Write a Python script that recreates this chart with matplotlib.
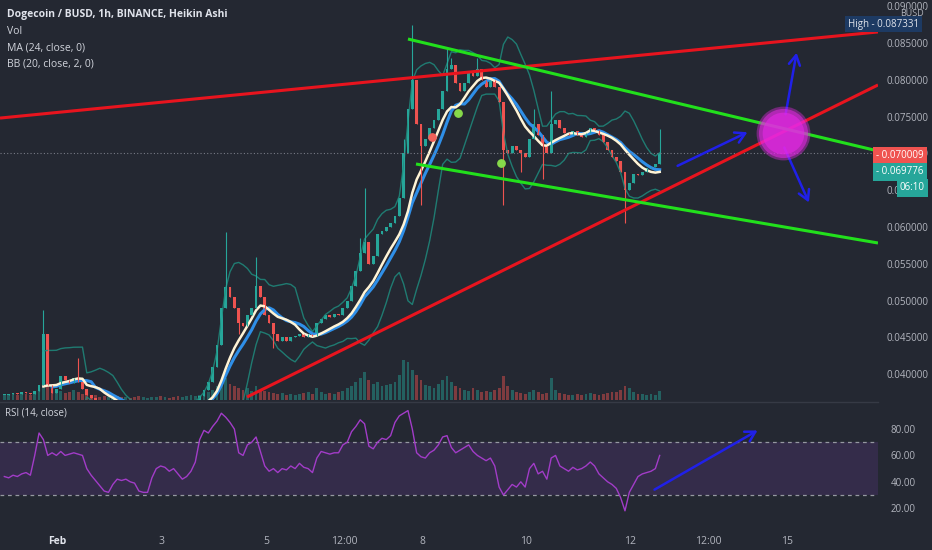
import numpy as np
import pandas as pd
import matplotlib
matplotlib.use("Agg")
import matplotlib.pyplot as plt
from matplotlib.ticker import FormatStrFormatter

# 2h buckets, hours counted from Feb 1 00:00
START_HOUR = -24.5
STEP = 2

closes = [0.0372, 0.0373, 0.0375, 0.0373, 0.0376, 0.0375, 0.0373, 0.0377,
          0.0385, 0.0455,
          0.0385, 0.0375, 0.0380, 0.0398, 0.0392, 0.0388, 0.0395, 0.0390, 0.0380, 0.0372, 0.0368, 0.0362,
          0.0356, 0.0350, 0.0352, 0.0356, 0.0354, 0.0352, 0.0355, 0.0353, 0.0350, 0.0348, 0.0350, 0.0352,
          0.0355, 0.0357, 0.0356, 0.0358, 0.0356, 0.0354, 0.0352, 0.0354, 0.0356, 0.0360, 0.0364,
          0.0370, 0.0378, 0.0390, 0.0410, 0.0440, 0.0490,
          0.0518,
          0.0505, 0.0490, 0.0470, 0.0465, 0.0480, 0.0490, 0.0520, 0.0505, 0.0480,
          0.0470, 0.0455, 0.0445, 0.0450, 0.0445, 0.0450, 0.0452, 0.0455, 0.0450, 0.0455, 0.0452,
          0.0470, 0.0475, 0.0480, 0.0478, 0.0482, 0.0480, 0.0490, 0.0500, 0.0520, 0.0540,
          0.0565, 0.0580, 0.0550, 0.0560, 0.0590, 0.0595, 0.0600, 0.0605, 0.0615, 0.0640,
          0.0700, 0.0760, 0.0800, 0.0740, 0.0710,
          0.0720, 0.0735, 0.0745, 0.0760, 0.0785, 0.0815, 0.0820,
          0.0795, 0.0785, 0.0795, 0.0810, 0.0805, 0.0815, 0.0800, 0.0790, 0.0800, 0.0790, 0.0770,
          0.0705, 0.0700, 0.0710, 0.0705, 0.0700, 0.0695, 0.0720, 0.0740, 0.0725, 0.0710, 0.0700,
          0.0740, 0.0745, 0.0735, 0.0728, 0.0725, 0.0730, 0.0725, 0.0722, 0.0728, 0.0735, 0.0732,
          0.0725, 0.0715, 0.0705, 0.0695,
          0.0690, 0.0675, 0.0650, 0.0660, 0.0672, 0.0670, 0.0675, 0.0680, 0.0682, 0.0685, 0.0700]

# wick extremes that stick out of the bodies (candle index -> price)
wick_high = {9: 0.0487, 17: 0.0422, 51: 0.0593, 58: 0.0559, 82: 0.0585, 83: 0.0653,
             92: 0.0720, 94: 0.0875, 102: 0.0845, 103: 0.0830, 109: 0.0830, 114: 0.0790,
             122: 0.0760, 126: 0.0785, 151: 0.0733}
wick_low = {54: 0.0455, 62: 0.0435, 96: 0.0630, 115: 0.0630, 119: 0.0675, 124: 0.0665, 143: 0.0605}

volume = [6, 5, 7, 5, 8, 6, 5, 7, 10,
          18,
          14, 10, 8, 9, 7, 8, 10, 8, 6, 7, 5, 5,
          3, 4, 3, 2, 4, 3, 3, 2, 3, 4, 3, 2, 3, 3, 4, 3, 2, 3, 4, 3, 4, 5, 4,
          5, 6, 8, 10, 14, 20,
          22,
          16, 14, 12, 10, 12, 9, 14, 10, 9,
          8, 7, 6, 7, 5, 6, 5, 6, 7, 8, 6, 12,
          8, 6, 7, 6, 8, 9, 12, 14, 18,
          22, 28, 20, 16, 18, 14, 15, 16, 18, 25,
          40, 38, 30, 25, 20,
          15, 14, 12, 16, 20, 24, 18,
          14, 12, 10, 9, 12, 10, 8, 9, 8, 10, 12,
          24,
          14, 10, 8, 7, 6, 8, 10, 8, 6, 7,
          22,
          10, 7, 6, 5, 5, 6, 5, 6, 7, 6, 5, 6, 7, 8,
          8, 10, 14, 12, 8, 6, 6, 5, 6, 5, 9]

rsi = [44, 43, 45, 44, 46, 47, 45, 60, 77, 72,
       60, 62, 60, 63, 60, 61, 62, 61, 60, 50,
       45, 41, 37, 33, 32, 38, 42, 41, 42, 40,
       39, 33, 32, 32, 43, 50, 52, 51, 48, 50,
       46, 42, 44, 48, 55, 72, 79, 77, 82, 86,
       92, 89, 85, 80, 62, 60, 68, 70, 74, 63,
       52, 48, 50, 47, 50, 49, 52, 50, 54, 51,
       50, 47, 58, 63, 62, 61, 62, 62, 68, 70,
       78, 82, 87, 84, 67, 65, 70, 73, 72, 75,
       85, 90, 92, 94, 80, 62, 59, 58, 62, 64,
       68, 74, 75, 66, 62, 64, 66, 68, 63, 60,
       58, 56, 58, 52, 36, 30, 34, 38, 36, 40,
       36, 50, 54, 46, 48, 42, 58, 60, 52, 50,
       48, 51, 49, 50, 52, 55, 52, 46, 43, 40,
       38, 35, 28, 18, 32, 38, 44, 46, 47, 48,
       50, 60]

# signal dots (hour, price)
red_dots = [(172.6, 0.07223)]
green_dots = [(184.6, 0.07549), (204.4, 0.06870)]

# trend lines drawn on the chart: ((hour, price), (hour, price))
red_lines = [((-26.5, 0.0748), (378.1, 0.0865)),
             ((87.3, 0.0369), (378.1, 0.0793))]
green_lines = [((161.5, 0.08554), (378.1, 0.07033)),
               ((165.2, 0.06856), (378.1, 0.05783))]
arrows_price = [((284.6, 0.06815), (319.1, 0.07304)),
                ((335.3, 0.07495), (340.8, 0.08405)),
                ((334.4, 0.07114), (346.8, 0.06299))]
arrow_rsi = ((274.0, 33.0), (323.7, 80.0))
blob = (334.4, 0.07277)

time_ticks = [0, 48, 96, 132, 168, 216, 264, 300, 336]
time_labels = ["Feb", "3", "5", "12:00", "8", "10", "12", "12:00", "15"]

last_price = 0.070009

BG = "#242832"
TEAL = "#26a69a"
RED = "#ef5350"
TXT = "#b2b5be"
BLUE = "#2020e8"
plt.rcParams["font.family"] = ["Open Sans", "DejaVu Sans"]

c = np.array(closes)
o = np.r_[c[0], c[:-1]]
hi = np.maximum(o, c)
lo = np.minimum(o, c)
for k, v in wick_high.items():
    hi[k] = v
for k, v in wick_low.items():
    lo[k] = v
hours = START_HOUR + STEP * np.arange(len(c))
cols = np.where(c >= o, TEAL, RED)

s = pd.Series(c)
basis = s.rolling(10).mean()
dev = s.rolling(10).std(ddof=0)
ma = s.rolling(12).mean()

W, H = 932, 550
fig = plt.figure(figsize=(W / 100, H / 100), dpi=100, facecolor=BG)
right = 878 / W
main_rect = [0, 1 - 400 / H, right, 400 / H]
axv = fig.add_axes(main_rect)
ax = fig.add_axes(main_rect, sharex=axv)
axr = fig.add_axes([0, 1 - 524 / H, right, 120 / H], sharex=axv)
axv.set_facecolor(BG)
ax.patch.set_visible(False)
axr.set_facecolor(BG)

# volume
axv.bar(hours, volume, width=1.3, color=cols, alpha=0.45, linewidth=0)
axv.set_ylim(0, 400)
axv.axis("off")

# bollinger + moving averages
ax.plot(hours, basis + 2 * dev, color="#1f8a7d", lw=1, alpha=0.85)
ax.plot(hours, basis - 2 * dev, color="#1f8a7d", lw=1, alpha=0.85)
ax.plot(hours, ma, color="#2f8fe8", lw=2.2)
ax.plot(hours, basis, color="#fff4d6", lw=1.8)

# candles
ax.vlines(hours, lo, hi, colors=cols, lw=0.8)
ax.bar(hours, np.maximum(np.abs(c - o), 0.00008), bottom=np.minimum(o, c),
       width=1.3, color=cols, linewidth=0)

ax.scatter([d[0] for d in red_dots], [d[1] for d in red_dots], s=28, color="#f0625a", zorder=5)
ax.scatter([d[0] for d in green_dots], [d[1] for d in green_dots], s=28, color="#86d94a", zorder=5)

ax.axhline(last_price, color="#787b86", lw=0.8, ls=(0, (1, 2)))

for (x0, y0), (x1, y1) in red_lines:
    ax.plot([x0, x1], [y0, y1], color="#e8141e", lw=2.2, solid_capstyle="butt")
for (x0, y0), (x1, y1) in green_lines:
    ax.plot([x0, x1], [y0, y1], color="#22e01c", lw=2.2, solid_capstyle="butt")

for tail, head in arrows_price:
    ax.annotate("", xy=head, xytext=tail,
                arrowprops=dict(arrowstyle="->,head_length=0.7,head_width=0.4", color=BLUE, lw=1.8))

for size, alpha in [(1500, 0.4), (1250, 0.55), (900, 0.6)]:
    ax.scatter([blob[0]], [blob[1]], s=size, color="#e628e6", alpha=alpha, linewidths=0, zorder=6)

ax.set_xlim(-26.5, 378.1)
ax.set_ylim(0.0365, 0.09084)
ax.yaxis.tick_right()
ax.set_yticks(np.arange(0.040, 0.0901, 0.005))
ax.yaxis.set_major_formatter(FormatStrFormatter("%.6f"))
ax.tick_params(axis="y", length=0, pad=6, labelcolor=TXT, labelsize=7)
ax.tick_params(axis="x", bottom=False, labelbottom=False)
for sp in ax.spines.values():
    sp.set_visible(False)

# RSI pane
axr.axhspan(30, 70, color="#7e3fb8", alpha=0.18, lw=0)
axr.axhline(70, color="#9598a1", lw=0.9, ls=(0, (3, 3)))
axr.axhline(30, color="#9598a1", lw=0.9, ls=(0, (3, 3)))
axr.plot(hours, rsi, color="#a23cc8", lw=1)
axr.annotate("", xy=arrow_rsi[1], xytext=arrow_rsi[0],
             arrowprops=dict(arrowstyle="->,head_length=0.7,head_width=0.4", color=BLUE, lw=1.8))
axr.set_ylim(8, 99)
axr.yaxis.tick_right()
axr.set_yticks([20, 40, 60, 80])
axr.yaxis.set_major_formatter(FormatStrFormatter("%.2f"))
axr.tick_params(axis="y", length=0, pad=9, labelcolor=TXT, labelsize=7)
axr.set_xticks(time_ticks)
axr.set_xticklabels(time_labels)
axr.tick_params(axis="x", length=0, pad=9, labelcolor=TXT, labelsize=7.5)
axr.get_xticklabels()[0].set_fontweight("bold")
axr.get_xticklabels()[0].set_color("#e0e3eb")
for sp in axr.spines.values():
    sp.set_visible(False)
fig.add_artist(plt.Line2D([0, right], [1 - 402 / H, 1 - 402 / H], color="#363a45", lw=1))

# legend texts
fig.text(7 / W, 1 - 15 / H, "Dogecoin / BUSD, 1h, BINANCE, Heikin Ashi", fontsize=7.5,
         fontweight="bold", color="#e0e3eb", va="center")
for k, t in enumerate(["Vol", "MA (24, close, 0)", "BB (20, close, 2, 0)"]):
    fig.text(7 / W, 1 - (32 + 16 * k) / H, t, fontsize=7.5, color="#d1d4dc", va="center")
fig.text(5 / W, 1 - 413 / H, "RSI (14, close)", fontsize=7, color="#d1d4dc", va="center")

# price axis badges
fig.text(912 / W, 1 - 14 / H, "BUSD", fontsize=6.5, color=TXT, ha="center", va="center",
         bbox=dict(boxstyle="square,pad=0.1", fc=BG, ec="none"))
fig.text(848 / W, 1 - 24 / H, "High - 0.087331", fontsize=7, color="#e0e3eb", va="center",
         bbox=dict(boxstyle="square,pad=0.3", fc="#1d3a63", ec="none"))
fig.text(876 / W, 1 - 156 / H, "- 0.070009", fontsize=7, color="white", va="center",
         bbox=dict(boxstyle="square,pad=0.35", fc=RED, ec="none"))
fig.text(876 / W, 1 - 172 / H, "- 0.069776", fontsize=7, color="white", va="center",
         bbox=dict(boxstyle="square,pad=0.35", fc=TEAL, ec="none"))
fig.text(900 / W, 1 - 188 / H, "06:10", fontsize=7, color="white", va="center",
         bbox=dict(boxstyle="square,pad=0.35", fc=TEAL, ec="none"))

fig.savefig("out.png", dpi=100, facecolor=BG)
